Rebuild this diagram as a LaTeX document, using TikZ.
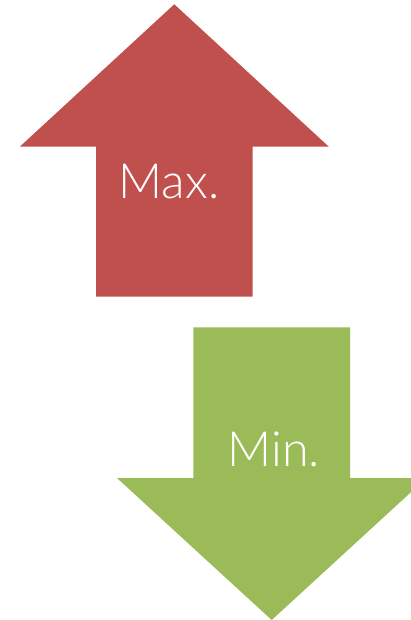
\documentclass[tikz,border=0pt]{standalone}
\usepackage{fontspec}
\setmainfont{Lato}[UprightFont=* Light]
\definecolor{maxred}{HTML}{C0504D}
\definecolor{mingreen}{HTML}{9BBB59}
\begin{document}
\begin{tikzpicture}[x=1pt,y=-1pt,
  arrowlabel/.style={text=white,font=\fontsize{48.5}{48.5}\selectfont,anchor=base,inner sep=0pt}]
\useasboundingbox (0,0) rectangle (410,620);
% red up arrow
\fill[maxred] (174.3,4.3) -- (328.8,146.7) -- (252.7,146.7) -- (252.7,296.7)
  -- (96,296.7) -- (96,146.7) -- (19.8,146.7) -- cycle;
% green down arrow
\fill[mingreen] (271.7,620) -- (426.4,478) -- (350,478) -- (350,327.3)
  -- (193.3,327.3) -- (193.3,478) -- (117,478) -- cycle;
\node[arrowlabel] (maxlabel) at (169,198.3) {Max.};
\node[arrowlabel] (minlabel) at (274,466.7) {Min.};
\end{tikzpicture}
\end{document}
